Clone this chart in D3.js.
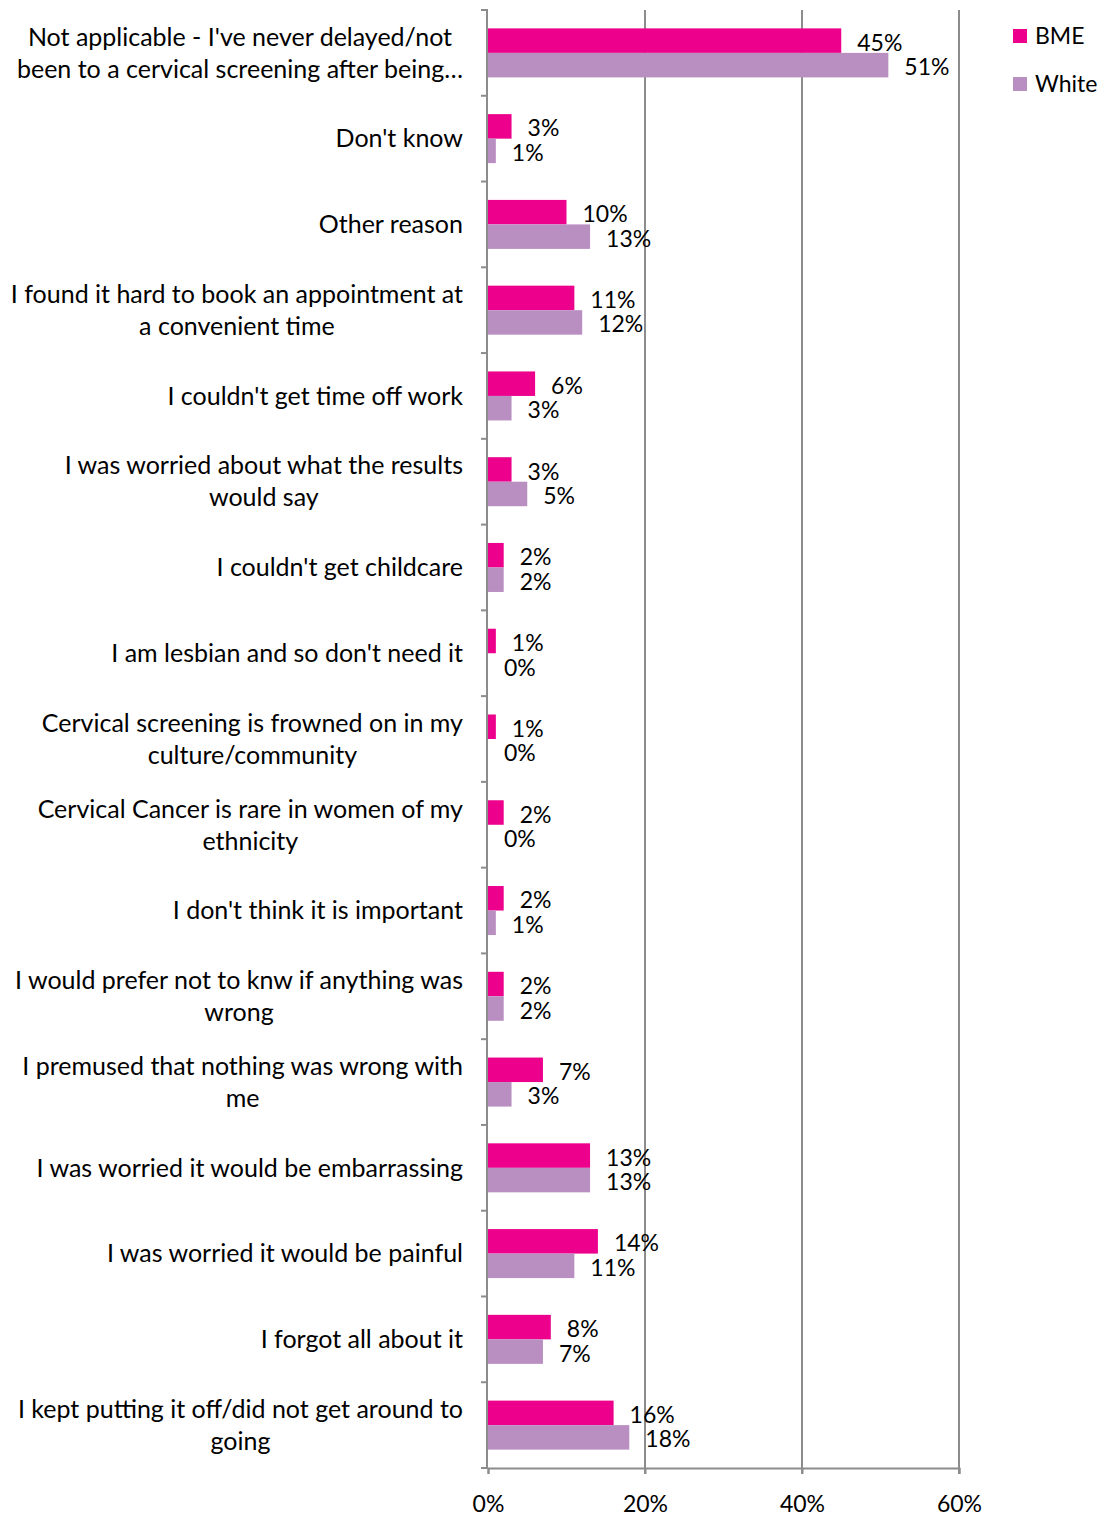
<!DOCTYPE html>
<html lang="en">
<head>
    <meta charset="UTF-8">
    <title>Reasons for delaying cervical screening</title>
    <script src="https://cdn.jsdelivr.net/npm/d3@7/dist/d3.min.js"></script>
    <style>
        body { margin: 0; background: #fff; }
        text { font-family: Lato, "Open Sans", sans-serif; fill: #000; }
    </style>
</head>
<body>
</body>
<script>
    // categories, top to bottom (label lines as wrapped in the original)
    var categories = [
        ["Not applicable - I've never delayed/not", "been to a cervical screening after being…"],
        ["Don't know"],
        ["Other reason"],
        ["I found it hard to book an appointment at", "a convenient time"],
        ["I couldn't get time off work"],
        ["I was worried about what the results", "would say"],
        ["I couldn't get childcare"],
        ["I am lesbian and so don't need it"],
        ["Cervical screening is frowned on in my", "culture/community"],
        ["Cervical Cancer is rare in women of my", "ethnicity"],
        ["I don't think it is important"],
        ["I would prefer not to knw if anything was", "wrong"],
        ["I premused that nothing was wrong with", "me"],
        ["I was worried it would be embarrassing"],
        ["I was worried it would be painful"],
        ["I forgot all about it"],
        ["I kept putting it off/did not get around to", "going"]
    ]
    var bme = [45, 3, 10, 11, 6, 3, 2, 1, 1, 2, 2, 2, 7, 13, 14, 8, 16]
    var white = [51, 1, 13, 12, 3, 5, 2, 0, 0, 0, 1, 2, 3, 13, 11, 7, 18]
    var seriesNames = ['BME', 'White']
    var colors = ['#ec008c', '#b98fc2']
    var xTicks = [0, 20, 40, 60]

    var width = 1105, height = 1516
    var plotLeft = 488, plotRight = 959, plotTop = 10, plotBottom = 1468

    var svg = d3.select('body')
        .append('svg')
        .attr('width', width)
        .attr('height', height)

    var x = d3.scaleLinear().domain([0, 60]).range([plotLeft, plotRight])
    var y = d3.scaleBand().domain(d3.range(categories.length)).range([plotTop, plotBottom])
    // two bars per category, gap width ~75%
    var inner = d3.scaleBand().domain([0, 1]).range([0, y.bandwidth()])
        .paddingInner(0).paddingOuter(0.75)

    // gridlines
    svg.append('g').selectAll('line')
        .data(xTicks.slice(1))
        .enter().append('line')
        .attr('x1', d => x(d)).attr('x2', d => x(d))
        .attr('y1', plotTop).attr('y2', plotBottom + 6)
        .attr('stroke', '#8c8c8c').attr('stroke-width', 2)

    // x axis
    var xAxis = svg.append('g')
        .attr('transform', 'translate(0,' + plotBottom + ')')
        .call(d3.axisBottom(x).tickValues(xTicks).tickSize(6).tickFormat(d => d + '%'))
    xAxis.select('.domain').attr('stroke', '#8c8c8c').attr('stroke-width', 2)
    xAxis.selectAll('.tick line').attr('stroke', '#8c8c8c').attr('stroke-width', 2)
    xAxis.selectAll('.tick text').attr('font-size', 23).attr('dy', 0).attr('y', 44)
        .style('font-family', 'Lato, sans-serif')

    // y axis with ticks at category boundaries
    var yAxisG = svg.append('g')
    yAxisG.append('line')
        .attr('x1', plotLeft - 1).attr('x2', plotLeft - 1)
        .attr('y1', plotTop).attr('y2', plotBottom)
        .attr('stroke', '#8c8c8c').attr('stroke-width', 2)
    yAxisG.selectAll('.yt')
        .data(d3.range(categories.length + 1))
        .enter().append('line')
        .attr('x1', plotLeft - 7).attr('x2', plotLeft)
        .attr('y1', d => plotTop + d * y.step()).attr('y2', d => plotTop + d * y.step())
        .attr('stroke', '#8c8c8c').attr('stroke-width', 2)

    // bars
    var series = [bme, white]
    series.forEach(function (vals, s) {
        var g = svg.append('g')
        g.selectAll('rect')
            .data(vals)
            .enter().append('rect')
            .attr('x', x(0))
            .attr('y', (d, i) => y(i) + inner(s))
            .attr('width', d => x(d) - x(0))
            .attr('height', inner.bandwidth())
            .attr('fill', colors[s])
        g.selectAll('text')
            .data(vals)
            .enter().append('text')
            .attr('x', d => x(d) + 16)
            .attr('y', (d, i) => y(i) + inner(s) + inner.bandwidth() / 2 + 2)
            .attr('dy', '0.35em')
            .attr('font-size', 23)
            .text(d => d + '%')
    })

    // category labels, block right-aligned, lines centred to each other
    var labels = svg.append('g')
    categories.forEach(function (lines, i) {
        var g = labels.append('g')
        var lh = 32
        var cy = y(i) + y.bandwidth() / 2
        var texts = lines.map(function (t, k) {
            return g.append('text')
                .attr('y', cy + (k - (lines.length - 1) / 2) * lh)
                .attr('dy', '0.35em')
                .attr('font-size', 25)
                .attr('text-anchor', 'middle')
                .text(t)
        })
        var maxW = d3.max(texts, t => t.node().getComputedTextLength())
        texts.forEach(t => t.attr('x', 463 - maxW / 2))
    })

    // legend
    var legend = svg.append('g')
    seriesNames.forEach(function (name, s) {
        var ly = 36 + s * 48
        legend.append('rect')
            .attr('x', 1013).attr('y', ly - 7)
            .attr('width', 14).attr('height', 14)
            .attr('fill', colors[s])
        legend.append('text')
            .attr('x', 1035).attr('y', ly)
            .attr('dy', '0.35em')
            .attr('font-size', 23)
            .text(name)
    })
</script>
</html>
